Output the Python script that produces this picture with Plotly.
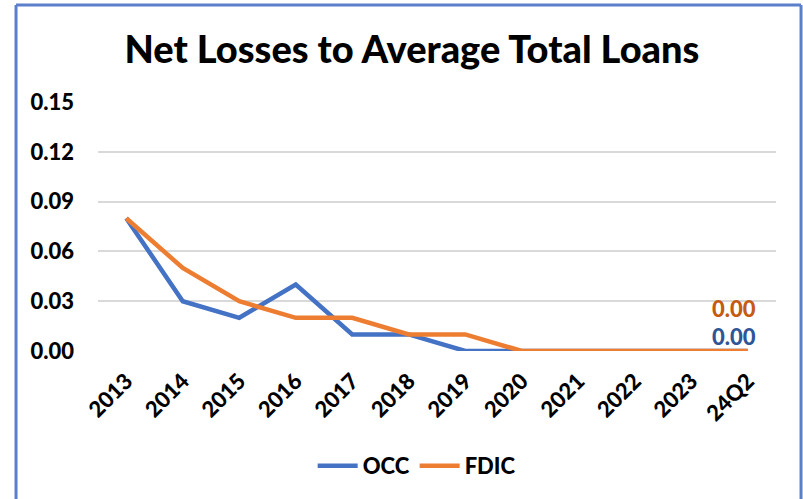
import plotly.graph_objects as go

categories = ["2013", "2014", "2015", "2016", "2017", "2018", "2019", "2020", "2021", "2022", "2023", "24Q2"]
occ = [0.08, 0.03, 0.02, 0.04, 0.01, 0.01, 0.00, 0.00, 0.00, 0.00, 0.00, 0.00]
fdic = [0.08, 0.05, 0.03, 0.02, 0.02, 0.01, 0.01, 0.00, 0.00, 0.00, 0.00, 0.00]
y_ticks = [0.00, 0.03, 0.06, 0.09, 0.12, 0.15]

BLUE = "#4472C4"
ORANGE = "#ED7D31"
FONT = "Lato"
W = 900

fig = go.Figure()
fig.add_trace(go.Scatter(x=categories, y=occ, mode="lines", name="OCC",
                         line=dict(color=BLUE, width=4.5)))
fig.add_trace(go.Scatter(x=categories, y=fdic, mode="lines", name="FDIC",
                         line=dict(color=ORANGE, width=4.5)))

# end-of-series labels
fig.add_annotation(x=categories[-1], y=fdic[-1], text=f"{fdic[-1]:.2f}", showarrow=False,
                   xref="x", yref="y", yshift=43, xshift=-14,
                   font=dict(family=FONT, size=22, color="#C55A11", weight=W))
fig.add_annotation(x=categories[-1], y=occ[-1], text=f"{occ[-1]:.2f}", showarrow=False,
                   xref="x", yref="y", yshift=15, xshift=-14,
                   font=dict(family=FONT, size=22, color="#2F5597", weight=W))

# chart frame
frame = dict(color="#5B7FCB", width=3)
x0, x1, y0, y1 = -0.1209, 1.0369, -0.62, 1.3896
fig.add_shape(type="line", xref="paper", yref="paper", x0=x0, x1=x0, y0=y0, y1=y1, line=frame)
fig.add_shape(type="line", xref="paper", yref="paper", x0=x0, x1=x1, y0=y1, y1=y1, line=frame)
fig.add_shape(type="line", xref="paper", yref="paper", x0=x1, x1=x1, y0=y0, y1=y1, line=frame)

fig.update_layout(
    width=803, height=499,
    margin=dict(l=98, r=27, t=102, b=148),
    paper_bgcolor="white", plot_bgcolor="white",
    title=dict(text="Net Losses to Average Total Loans", x=0.513, xanchor="center",
               y=0.9, yanchor="middle",
               font=dict(family=FONT, size=38, color="black", weight=W)),
    showlegend=True,
    legend=dict(orientation="h", x=0.47, xanchor="center", y=-0.462, yanchor="middle",
                font=dict(family=FONT, size=22, color="black", weight=W),
                itemwidth=40, tracegroupgap=0),
    xaxis=dict(type="category", range=[-0.5, 11.5], showgrid=False, showline=False,
               ticks="", tickangle=-45, ticklabelstandoff=12,
               tickfont=dict(family=FONT, size=22, color="black", weight=W)),
    yaxis=dict(range=[0, 0.15], tickvals=y_ticks, tickformat=".2f",
               showgrid=True, gridcolor="#D9D9D9", gridwidth=1.5,
               zeroline=False, showline=False, ticks="", ticklabelstandoff=23,
               tickfont=dict(family=FONT, size=22, color="black", weight=W)),
)

fig.write_html("out.html")
